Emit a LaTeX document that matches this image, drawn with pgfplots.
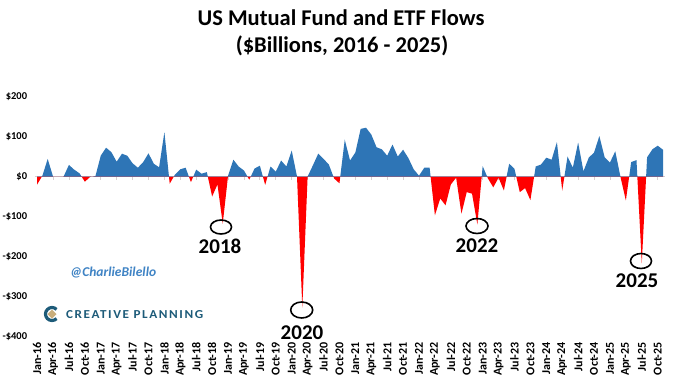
\documentclass[border=0pt]{standalone}
\usepackage{fontspec}
\setmainfont{Carlito}
\usepackage{graphicx}
\usepackage{pgfplots}
\pgfplotsset{compat=1.18}
\usepackage{pgfplotstable}

\definecolor{cblue}{HTML}{2E75B6}
\definecolor{cred}{HTML}{FF0000}
\definecolor{wm}{HTML}{3F83C4}
\definecolor{cpteal}{HTML}{1D5B79}
\definecolor{cpgold}{HTML}{C9AE7C}
\definecolor{zl}{HTML}{D9D0D0}

\pgfplotstableread{
i v
0 -20
1 2
2 44
3 0
4 0
5 0
6 29
7 17
8 8
9 -13
10 -1
11 1
12 52
13 72
14 61
15 37
16 57
17 52
18 33
19 22
20 36
21 58
22 32
23 23
24 111
25 -18
26 5
27 18
28 22
29 -14
30 17
31 7
32 11
33 -50
34 -20
35 -118
36 2
37 42
38 25
39 15
40 -8
41 20
42 27
43 -21
44 25
45 12
46 40
47 25
48 65
49 0
50 -328
51 0
52 28
53 57
54 44
55 30
56 -5
57 -17
58 92
59 40
60 60
61 119
62 122
63 105
64 73
65 68
66 52
67 80
68 50
69 67
70 46
71 18
72 2
73 22
74 22
75 -97
76 -55
77 -72
78 -20
79 -3
80 -93
81 -39
82 -43
83 -120
84 26
85 -5
86 -27
87 -3
88 -35
89 32
90 19
91 -39
92 -29
93 -59
94 25
95 30
96 47
97 42
98 86
99 -35
100 50
101 22
102 85
103 13
104 47
105 60
106 101
107 48
108 35
109 63
110 -2
111 -60
112 36
113 41
114 -217
115 48
116 68
117 77
118 67
}\flows

\begin{document}
\begin{tikzpicture}
\pgfplotsset{
  base/.style={scale only axis, width=625.9pt, xmin=0, xmax=118, anchor=south west},
}
% main axis: labels only
\begin{axis}[base, at={(37.1pt,-336.5pt)}, height=240pt, ymin=-400, ymax=200,
  axis line style={draw=none}, major tick length=0pt,
  xtick={0,3,...,117},
  xticklabels={Jan-16,Apr-16,Jul-16,Oct-16,Jan-17,Apr-17,Jul-17,Oct-17,Jan-18,Apr-18,Jul-18,Oct-18,Jan-19,Apr-19,Jul-19,Oct-19,Jan-20,Apr-20,Jul-20,Oct-20,Jan-21,Apr-21,Jul-21,Oct-21,Jan-22,Apr-22,Jul-22,Oct-22,Jan-23,Apr-23,Jul-23,Oct-23,Jan-24,Apr-24,Jul-24,Oct-24,Jan-25,Apr-25,Jul-25,Oct-25},
  ytick={-400,-300,...,200},
  yticklabels={-\$400,-\$300,-\$200,-\$100,\$0,\$100,\$200},
  xticklabel shift=5.5pt, yticklabel shift=9.8pt,
  x tick label style={rotate=90, anchor=east, inner sep=0pt, font=\bfseries\fontsize{12}{12}\selectfont},
  y tick label style={anchor=east, inner sep=0pt, font=\bfseries\fontsize{10.5}{10.5}\selectfont},
]
\addplot[draw=none] coordinates {(0,0)};
\end{axis}
% zero line with ticks
\draw[zl, line width=1pt] (35pt,-176.5pt) -- (665pt,-176.5pt);
\foreach \k in {0,...,39} \draw[zl, line width=0.8pt] ({(37.1+15.912*\k)*1pt},-176.5pt) -- ++(0,-3pt);
% negative part
\begin{axis}[base, at={(37.1pt,-336.5pt)}, height=160pt, ymin=-400, ymax=0, hide axis]
\addplot[fill=cred, draw=none] table[x=i,y=v]{\flows} \closedcycle;
\end{axis}
% positive part
\begin{axis}[base, at={(37.1pt,-176.5pt)}, height=80pt, ymin=0, ymax=200, hide axis]
\addplot[fill=cblue, draw=none] table[x=i,y=v]{\flows} \closedcycle;
\end{axis}
% title
\node[anchor=base, inner sep=0pt, font=\bfseries\fontsize{22.5}{27}\selectfont] at (341pt,-25.4pt) {US Mutual Fund and ETF Flows};
\node[anchor=base, inner sep=0pt, font=\bfseries\fontsize{22.5}{27}\selectfont] at (342pt,-52.4pt) {(\$Billions, 2016 - 2025)};
% annotations
\draw[line width=1.6pt] (221pt,-227pt) ellipse [x radius=10.5pt, y radius=7pt];
\draw[line width=1.6pt] (301.7pt,-310pt) ellipse [x radius=11pt, y radius=8pt];
\draw[line width=1.6pt] (477pt,-226pt) ellipse [x radius=11pt, y radius=7.5pt];
\draw[line width=1.6pt] (641pt,-261pt) ellipse [x radius=10.5pt, y radius=7.5pt];
\node[anchor=base, inner sep=0pt, font=\bfseries\fontsize{21}{21}\selectfont] at (220pt,-253pt) {2018};
\node[anchor=base, inner sep=0pt, font=\bfseries\fontsize{21}{21}\selectfont] at (302pt,-339pt) {2020};
\node[anchor=base, inner sep=0pt, font=\bfseries\fontsize{21}{21}\selectfont] at (477pt,-252pt) {2022};
\node[anchor=base, inner sep=0pt, font=\bfseries\fontsize{21}{21}\selectfont] at (637pt,-287pt) {2025};
% watermark
\node[anchor=base west, inner sep=0pt, text=wm, font=\bfseries\itshape\fontsize{13.5}{13.5}\selectfont] at (70pt,-276pt) {@CharlieBilello};
\draw[cpteal, line width=3.2pt] (52pt,-314pt) ++(45:6.5pt) arc[start angle=45, end angle=315, radius=6.5pt];
\fill[cpgold] (52pt,-309.5pt) -- (56.5pt,-314pt) -- (52pt,-318.5pt) -- (47.5pt,-314pt) -- cycle;
\node[anchor=base west, inner sep=0pt, text=cpteal] at (66pt,-318pt) {\resizebox{137pt}{8pt}{\addfontfeatures{LetterSpace=12}\bfseries CREATIVE PLANNING}};
\pgfresetboundingbox
\path[use as bounding box] (0,0) rectangle (680pt,-381pt);
\end{tikzpicture}
\end{document}
